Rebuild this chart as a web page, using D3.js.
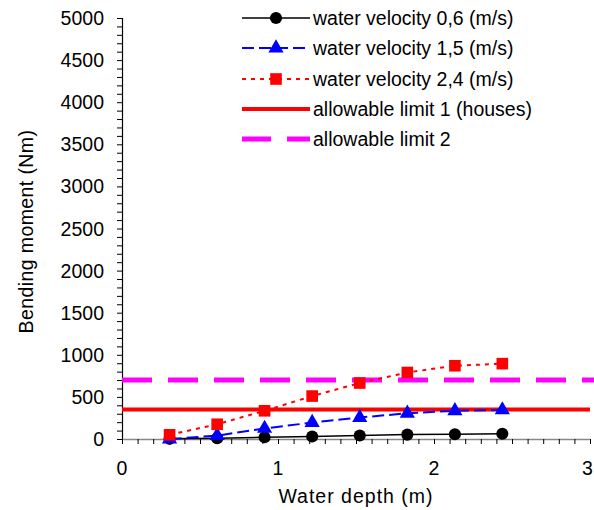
<!DOCTYPE html>
<html><head><meta charset="utf-8">
<script src="https://cdn.jsdelivr.net/npm/d3@7"></script>
<style>body{margin:0;background:#fff}svg{display:block}text{font-family:"Liberation Sans",Arial,sans-serif;fill:#000}</style>
</head><body><svg id="c" width="594" height="510"></svg>
<script>
const depths = [0.305, 0.61, 0.914, 1.219, 1.524, 1.829, 2.134, 2.438];
const vel06 = [2, 10, 20, 30, 42, 52, 57, 62];
const vel15 = [0, 40, 125, 195, 255, 305, 335, 345];
const vel24 = [50, 175, 335, 510, 665, 790, 870, 895];
const limit1 = 350;
const limit2 = 700;
const xTicks = [0, 1, 2, 3];
const yTicks = [0, 500, 1000, 1500, 2000, 2500, 3000, 3500, 4000, 4500, 5000];
const legendLabels = ["water velocity 0,6 (m/s)", "water velocity 1,5 (m/s)", "water velocity 2,4 (m/s)", "allowable limit 1 (houses)", "allowable limit 2"];

const svg = d3.select("#c");
const x = d3.scaleLinear().domain([0, 3]).range([122, 590]);
const y = d3.scaleLinear().domain([0, 5000]).range([439, 18]);
const FS = 19.5;

function txt(px, py, s, anchor, dy) {
  return svg.append("text").attr("x", px).attr("y", py)
    .attr("text-anchor", anchor).attr("dy", dy || null).attr("font-size", FS).text(s);
}

// y axis
const yAxis = d3.axisLeft(y).tickValues(d3.range(0, 5001, 100)).tickSize(5).tickFormat("");
const gy = svg.append("g").attr("transform", `translate(${x(0)},0)`).call(yAxis);
gy.select(".domain").attr("stroke", "#000").attr("stroke-width", 1.2);
gy.selectAll(".tick line").attr("stroke", "#000").attr("stroke-width", 1);
yTicks.forEach(v => txt(104, y(v), v, "end", "0.36em"));

// x axis
const xAxis = d3.axisBottom(x).tickValues(d3.range(0, 30.01, 1).map(d => d / 10)).tickSize(5).tickSizeOuter(0).tickFormat("");
const gx = svg.append("g").attr("transform", `translate(0,${y(0)})`).call(xAxis);
gx.select(".domain").attr("stroke", "#888").attr("stroke-width", 1.5);
gx.selectAll(".tick line").attr("stroke", "#000").attr("stroke-width", 1);
xTicks.forEach(v => txt(Math.min(x(v), 587.5), 475, v, "middle"));

// axis titles
txt(x(1.5), 503, "Water depth (m)", "middle").attr("letter-spacing", 1);
svg.append("text").attr("transform", `translate(33,${y(2500) + 3}) rotate(-90)`)
  .attr("text-anchor", "middle").attr("font-size", FS).attr("letter-spacing", 0.4).text("Bending moment (Nm)");

// limit lines
svg.append("line").attr("x1", x(0)).attr("x2", x(3)).attr("y1", y(limit1)).attr("y2", y(limit1))
  .attr("stroke", "#ff0000").attr("stroke-width", 4);
svg.append("line").attr("x1", x(0)).attr("x2", 594).attr("y1", y(limit2)).attr("y2", y(limit2))
  .attr("stroke", "#ff00ff").attr("stroke-width", 5).attr("stroke-dasharray", "30,16");

const line = d3.line().x(d => x(d[0])).y(d => y(d[1]));
const series = [
  {vals: vel06, color: "#000000", dash: null, width: 1.5, sym: d3.symbolCircle, size: 115},
  {vals: vel15, color: "#0000ff", dash: "12,5", width: 2, sym: d3.symbolTriangle, size: 100},
  {vals: vel24, color: "#ff0000", dash: "4,5", width: 2, sym: d3.symbolSquare, size: 135}
];
series.forEach(s => {
  const pts = depths.map((d, i) => [d, s.vals[i]]);
  svg.append("path").attr("d", line(pts)).attr("fill", "none").attr("stroke", s.color)
    .attr("stroke-width", s.width).attr("stroke-dasharray", s.dash);
});
series.forEach(s => {
  const pts = depths.map((d, i) => [d, s.vals[i]]);
  svg.append("g").selectAll("path").data(pts).join("path")
    .attr("transform", d => `translate(${x(d[0])},${y(d[1])})`)
    .attr("d", d3.symbol().type(s.sym).size(s.size)).attr("fill", s.color);
});

// legend
const rowY = [18, 48, 79, 109, 139];
const lx1 = 242, lx2 = 310, lmid = 276;
series.forEach((s, i) => {
  svg.append("line").attr("x1", lx1).attr("x2", lx2).attr("y1", rowY[i]).attr("y2", rowY[i])
    .attr("stroke", s.color).attr("stroke-width", s.width).attr("stroke-dasharray", s.dash);
  svg.append("path").attr("transform", `translate(${lmid},${rowY[i]})`)
    .attr("d", d3.symbol().type(s.sym).size(s.size)).attr("fill", s.color);
});
svg.append("line").attr("x1", lx1).attr("x2", lx2).attr("y1", rowY[3]).attr("y2", rowY[3])
  .attr("stroke", "#ff0000").attr("stroke-width", 4);
svg.append("line").attr("x1", lx1).attr("x2", lx2).attr("y1", rowY[4]).attr("y2", rowY[4])
  .attr("stroke", "#ff00ff").attr("stroke-width", 5).attr("stroke-dasharray", "29,16");
legendLabels.forEach((t, i) => txt(313, rowY[i], t, "start", "0.36em"));
</script></body></html>
